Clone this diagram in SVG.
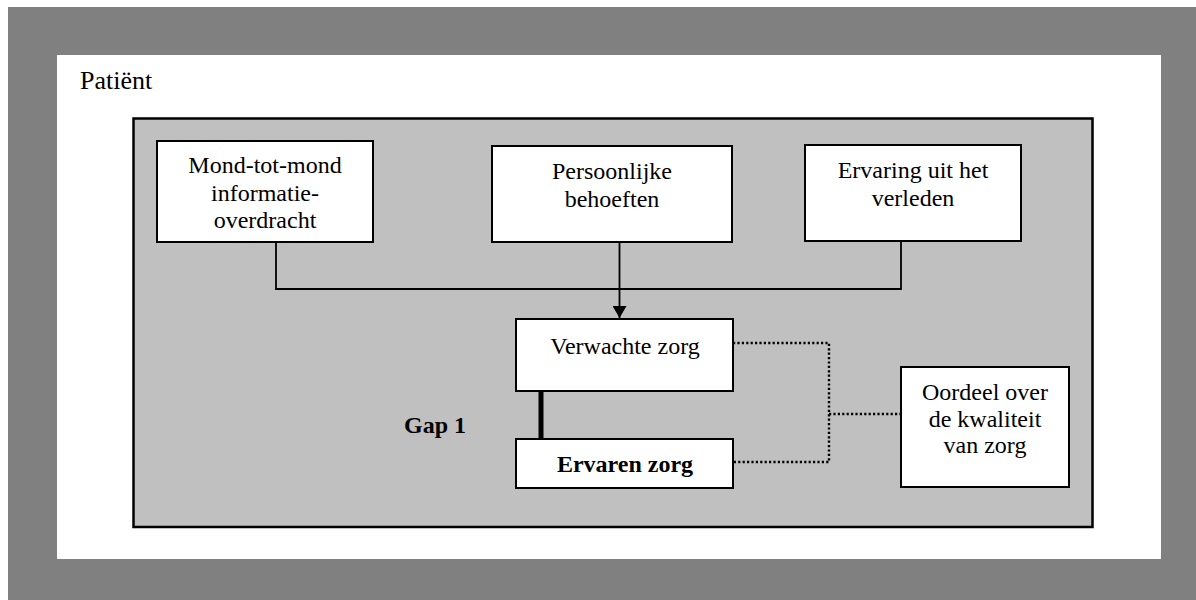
<svg xmlns="http://www.w3.org/2000/svg" width="1196" height="600" viewBox="0 0 1196 600">
<style>
.node rect{fill:#ffffff;stroke:#000000;stroke-width:2}
.t{font-family:"Liberation Serif","Times New Roman",serif;font-size:24px;fill:#000000;text-anchor:middle}
.p{font-family:"Liberation Serif","Times New Roman",serif;font-size:26px;fill:#000000}
.b{font-weight:bold}
.conn{fill:none;stroke:#000000;stroke-width:1.8}
.dot{fill:none;stroke:#000000;stroke-width:2.4;stroke-dasharray:2.2 2.2}
</style>
<defs>
<marker id="arr" markerWidth="12" markerHeight="14" refX="12" refY="7" orient="auto" markerUnits="userSpaceOnUse">
<path d="M0,0 L12,7 L0,14 Z" fill="#000000"/>
</marker>
</defs>
<rect x="8" y="7" width="1188" height="593" fill="#808080"/>
<rect x="57" y="55" width="1104" height="504" fill="#ffffff"/>
<text class="p" x="80" y="89">Patiënt</text>
<rect x="133.5" y="118.5" width="959" height="408.5" fill="#c0c0c0" stroke="#000000" stroke-width="2.5"/>
<g id="connectors">
<path class="conn" d="M276,242 V289 H901 V241"/>
<path class="conn" d="M619.5,242 V318" marker-end="url(#arr)"/>
<line x1="541" y1="391" x2="541" y2="439" stroke="#000000" stroke-width="5"/>
<path class="dot" d="M733,343 H829 V462 H733"/>
<path class="dot" d="M829,414 H901"/>
</g>
<g id="mond" class="node">
<rect x="157" y="141" width="216" height="101"/>
<text class="t" x="265" y="173">Mond-tot-mond</text>
<text class="t" x="265" y="201">informatie-</text>
<text class="t" x="265" y="228">overdracht</text>
</g>
<g id="persoonlijk" class="node">
<rect x="492" y="146" width="240" height="96"/>
<text class="t" x="612" y="179">Persoonlijke</text>
<text class="t" x="612" y="207">behoeften</text>
</g>
<g id="ervaring" class="node">
<rect x="805" y="145" width="216" height="96"/>
<text class="t" x="913" y="178">Ervaring uit het</text>
<text class="t" x="913" y="206">verleden</text>
</g>
<g id="verwachte" class="node">
<rect x="516" y="319" width="217" height="72"/>
<text class="t" x="625" y="354">Verwachte zorg</text>
</g>
<g id="ervaren" class="node">
<rect x="516" y="439" width="217" height="49"/>
<text class="t b" x="625" y="472">Ervaren zorg</text>
</g>
<g id="gap">
<text class="t b" x="435" y="433" font-size="26">Gap 1</text>
</g>
<g id="oordeel" class="node">
<rect x="901" y="367" width="168" height="120"/>
<text class="t" x="985" y="400">Oordeel over</text>
<text class="t" x="985" y="427">de kwaliteit</text>
<text class="t" x="985" y="453">van zorg</text>
</g>
</svg>
